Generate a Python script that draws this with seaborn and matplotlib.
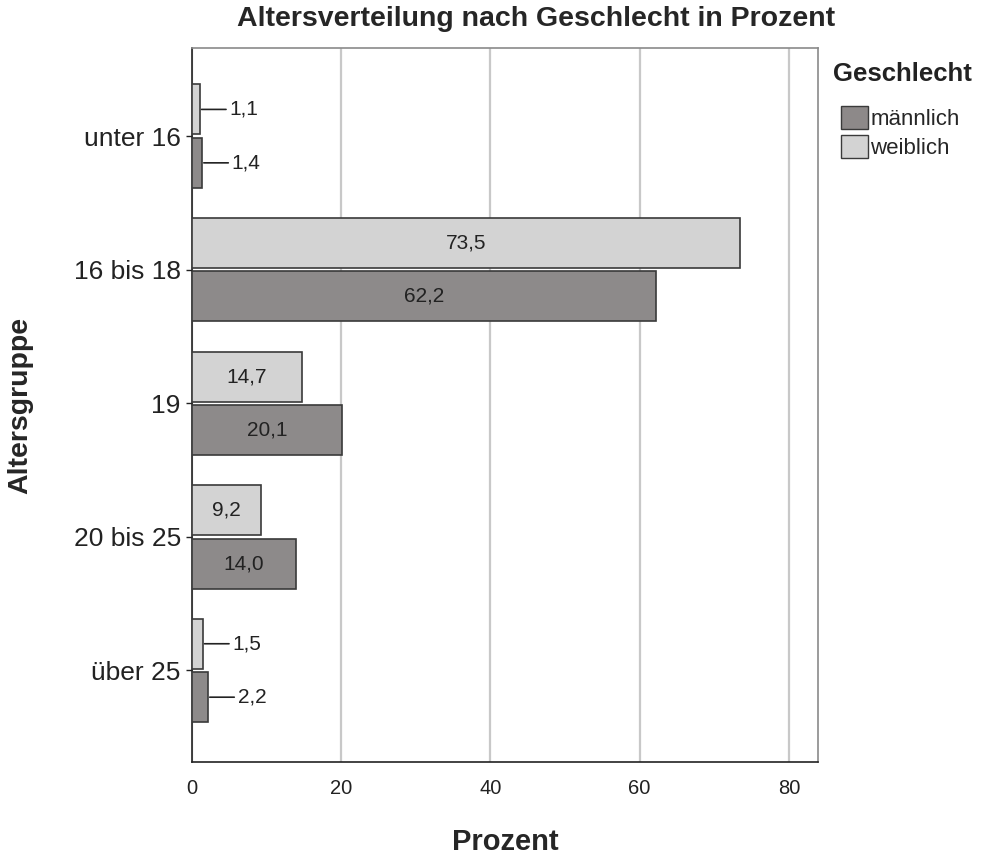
import pandas as pd
import seaborn as sns
import matplotlib.pyplot as plt
from matplotlib.patches import Patch

# Data
altersgruppen = ["unter 16", "16 bis 18", "19", "20 bis 25", "über 25"]
maennlich = [1.4, 62.2, 20.1, 14.0, 2.2]
weiblich = [1.1, 73.5, 14.7, 9.2, 1.5]

df = pd.DataFrame({
    "Altersgruppe": altersgruppen * 2,
    "Prozent": maennlich + weiblich,
    "Geschlecht": ["männlich"] * 5 + ["weiblich"] * 5,
})

colors = {"männlich": "#8d8989", "weiblich": "#d3d3d3"}

sns.set_style("white")
plt.rcParams["font.family"] = ["Liberation Sans", "DejaVu Sans"]

fig = plt.figure(figsize=(9.92, 8.55), dpi=100)
ax = fig.add_axes([0.1935, 0.1088, 0.6311, 0.8351])

sns.barplot(data=df, x="Prozent", y="Altersgruppe", hue="Geschlecht",
            order=altersgruppen, hue_order=["weiblich", "männlich"],
            palette=colors, orient="h", width=0.8, gap=0.065,
            edgecolor="#3a3a3a", linewidth=1.2, legend=False, ax=ax, zorder=3)

ax.set_xlim(0, 83.9)
ax.set_ylim(4.685, -0.66)
ax.set_xticks([0, 20, 40, 60, 80])
ax.xaxis.grid(True, color="#c8c8c8", linewidth=1.6, zorder=0)
ax.set_axisbelow(True)
ax.tick_params(axis="x", labelsize=14.5, length=0, pad=12, colors="#222222")
ax.tick_params(axis="y", labelsize=19, length=4, width=1, left=True, pad=4, colors="#222222")

for side in ["left", "bottom"]:
    ax.spines[side].set_color("#222222")
    ax.spines[side].set_linewidth(1.2)
for side in ["top", "right"]:
    ax.spines[side].set_color("#8a8a8a")
    ax.spines[side].set_linewidth(1.2)

# value labels
for p in ax.patches:
    w = p.get_width()
    yc = p.get_y() + p.get_height() / 2
    txt = f"{w:.1f}".replace(".", ",")
    if w > 5:
        ax.text(w / 2, yc, txt, ha="center", va="center", fontsize=15, color="#222222", zorder=4)
    else:
        ax.annotate(txt, xy=(w, yc), xytext=(21, 0), textcoords="offset points",
                    ha="left", va="center", fontsize=15, color="#222222",
                    arrowprops=dict(arrowstyle="-", color="#222222", lw=1.2,
                                    shrinkA=0, shrinkB=1), zorder=4)

ax.set_xlabel("Prozent", fontsize=21, fontweight="bold", labelpad=22)
ax.set_ylabel("Altersgruppe", fontsize=20.5, fontweight="bold")
ax.yaxis.set_label_coords(-0.254, 0.5)
fig.suptitle("Altersverteilung nach Geschlecht in Prozent", x=0.54, y=0.993,
             fontsize=20.5, fontweight="bold")

# legend: title placed separately so the entries sit lower and indented
fig.text(0.84, 0.914, "Geschlecht", fontsize=18.5, fontweight="bold",
         ha="left", va="center", color="#222222")
handles = [Patch(facecolor=colors["männlich"], edgecolor="#3a3a3a", label="männlich"),
           Patch(facecolor=colors["weiblich"], edgecolor="#3a3a3a", label="weiblich")]
fig.legend(handles=handles, loc="upper left", bbox_to_anchor=(0.848, 0.876),
           frameon=False, fontsize=16, handlelength=1.2, handleheight=1.2,
           handletextpad=0.1, labelspacing=0.25, borderaxespad=0, borderpad=0)

fig.savefig("out.png", dpi=100)
